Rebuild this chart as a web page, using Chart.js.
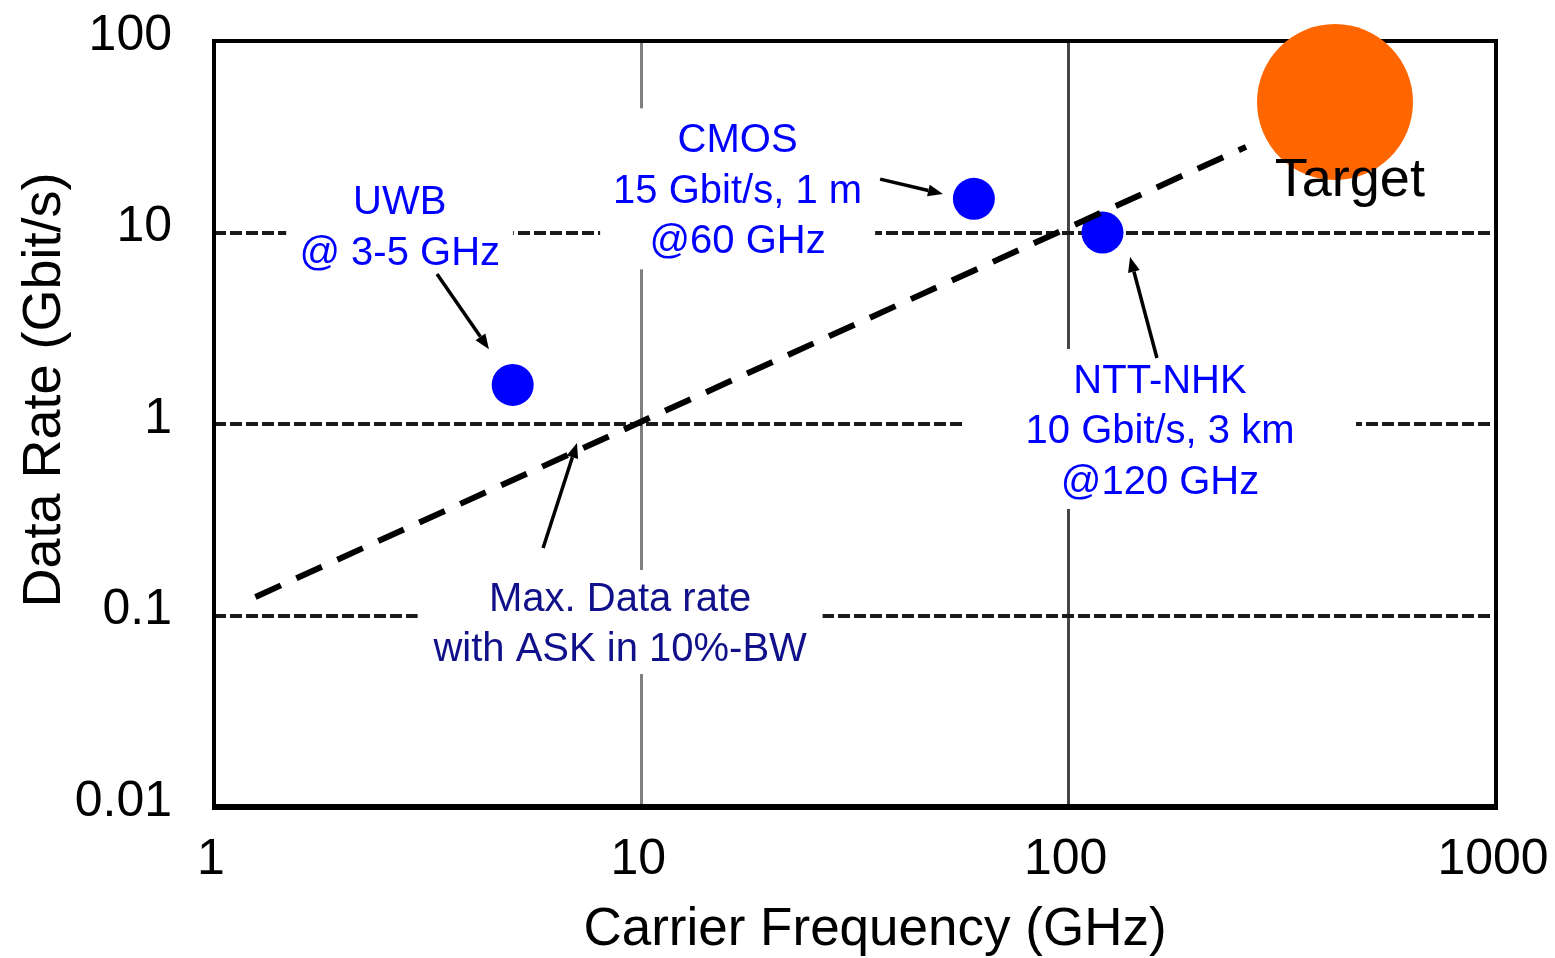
<!DOCTYPE html>
<html><head><meta charset="utf-8">
<script src="https://cdn.jsdelivr.net/npm/chart.js@4.4.0/dist/chart.umd.min.js"></script>
<style>html,body{margin:0;padding:0;background:#fff;}#wrap{width:1555px;height:958px;position:relative;}</style>
</head><body><div id="wrap"><canvas id="c"></canvas></div>
<script>
// ---- data ----
const xTickValues = [1, 10, 100, 1000];
const xTickLabels = ['1', '10', '100', '1000'];
const yTickValues = [0.01, 0.1, 1, 10, 100];
const yTickLabels = ['0.01', '0.1', '1', '10', '100'];

const measuredNames = ['UWB', 'CMOS', 'NTT-NHK'];
const measuredFreq = [5, 60, 120];      // GHz
const measuredRate = [1.6, 15, 10];     // Gbit/s
const targetFreq = [420];
const targetRate = [48];
const askLimitFreq = [1.25, 260];
const askLimitRate = [0.125, 28];

const xAxisTitle = 'Carrier Frequency (GHz)';
const yAxisTitle = 'Data Rate (Gbit/s)';

// ---- annotations (anchored in data units) ----
const FONT = '"Liberation Sans", Arial, sans-serif';
const notes = [
  {lines: ['UWB', '@ 3-5 GHz'], x: 2.72, y: 10.9, color: '#0000ff', size: 40, boxW: 227, boxH: 104},
  {lines: ['CMOS', '15 Gbit/s, 1 m', '@60 GHz'], x: 16.8, y: 16.9, color: '#0000ff', size: 40, boxW: 275, boxH: 161},
  {lines: ['NTT-NHK', '10 Gbit/s, 3 km', '@120 GHz'], x: 163.6, y: 0.942, color: '#0000ff', size: 40, boxW: 392, boxH: 160},
  {lines: ['Max. Data rate', 'with ASK in 10%-BW'], x: 8.92, y: 0.0925, color: '#10108a', size: 40, boxW: 405, boxH: 104},
  {lines: ['Target'], x: 455, y: 19.3, color: '#000000', size: 54}
];
const arrows = [
  {from: [3.325, 6.07], to: [4.40, 2.46]},
  {from: [36.2, 19.0], to: [50.8, 15.9]},
  {from: [160.9, 2.21], to: [139.2, 7.45]},
  {from: [5.89, 0.225], to: [7.07, 0.796]}
];

const overlay = {
  id: 'overlay',
  beforeDatasetsDraw(chart) {
    const {ctx, chartArea: a, scales: {x, y}} = chart;
    ctx.save();
    ctx.fillStyle = '#ffffff';
    notes.forEach(n => {
      if (!n.boxW) return;
      const cx = x.getPixelForValue(n.x), cy = y.getPixelForValue(n.y);
      ctx.fillRect(cx - n.boxW / 2, cy - n.boxH / 2, n.boxW, n.boxH);
    });
    ctx.strokeStyle = '#000';
    ctx.lineWidth = 4;
    ctx.beginPath();
    ctx.moveTo(a.left, a.bottom); ctx.lineTo(a.left, a.top);
    ctx.lineTo(a.right, a.top); ctx.lineTo(a.right, a.bottom);
    ctx.stroke();
    ctx.lineWidth = 6;
    ctx.beginPath();
    ctx.moveTo(a.left - 2, a.bottom); ctx.lineTo(a.right + 2, a.bottom);
    ctx.stroke();
    ctx.restore();
  },
  afterDatasetsDraw(chart) {
    const {ctx, chartArea: a, scales: {x, y}} = chart;
    ctx.save();
    ctx.textAlign = 'center';
    ctx.textBaseline = 'middle';
    notes.forEach(n => {
      const cx = x.getPixelForValue(n.x), cy = y.getPixelForValue(n.y) + 3;
      const lh = 50.5;
      ctx.font = n.size + 'px ' + FONT;
      ctx.fillStyle = n.color;
      const y0 = cy - (n.lines.length - 1) * lh / 2;
      n.lines.forEach((t, i) => ctx.fillText(t, cx, y0 + i * lh));
    });
    // arrows
    ctx.strokeStyle = '#000'; ctx.fillStyle = '#000'; ctx.lineWidth = 3.5;
    arrows.forEach(ar => {
      const x1 = x.getPixelForValue(ar.from[0]), y1 = y.getPixelForValue(ar.from[1]);
      const x2 = x.getPixelForValue(ar.to[0]), y2 = y.getPixelForValue(ar.to[1]);
      const ang = Math.atan2(y2 - y1, x2 - x1);
      const hl = 15, hw = 6;
      const bx = x2 - hl * Math.cos(ang), by = y2 - hl * Math.sin(ang);
      ctx.beginPath(); ctx.moveTo(x1, y1); ctx.lineTo(bx, by); ctx.stroke();
      ctx.beginPath();
      ctx.moveTo(x2, y2);
      ctx.lineTo(bx + hw * Math.sin(ang), by - hw * Math.cos(ang));
      ctx.lineTo(bx - hw * Math.sin(ang), by + hw * Math.cos(ang));
      ctx.closePath(); ctx.fill();
    });
    // axis titles
    ctx.fillStyle = '#000';
    ctx.font = '53px ' + FONT;
    ctx.fillText(xAxisTitle, 875, 930);
    ctx.save();
    ctx.translate(45, 390);
    ctx.rotate(-Math.PI / 2);
    ctx.font = '54px ' + FONT;
    ctx.fillText(yAxisTitle, 0, 0);
    ctx.restore();
    ctx.restore();
  }
};

const toPts = (xs, ys) => xs.map((v, i) => ({x: v, y: ys[i]}));

new Chart(document.getElementById('c'), {
  type: 'scatter',
  data: {
    datasets: [
      {type: 'line', label: 'Max. Data rate with ASK in 10%-BW', data: toPts(askLimitFreq, askLimitRate),
       borderColor: '#000', borderWidth: 6, borderDash: [28, 17], pointRadius: 0, fill: false, order: 0},
      {label: 'Measured', data: toPts(measuredFreq, measuredRate), backgroundColor: '#0000ff',
       borderWidth: 0, pointRadius: 21, order: 1},
      {label: 'Target', data: toPts(targetFreq, targetRate), backgroundColor: '#ff6600',
       borderWidth: 0, pointRadius: 78, clip: false, order: 2}
    ]
  },
  options: {
    responsive: true, maintainAspectRatio: false, animation: false, events: [],
    layout: {autoPadding: false, padding: {left: 0, right: 59, top: 41, bottom: 0}},
    plugins: {legend: {display: false}, tooltip: {enabled: false}},
    scales: {
      x: {
        type: 'logarithmic', min: 1, max: 1000,
        afterBuildTicks: s => { s.ticks = xTickValues.map(v => ({value: v})); },
        afterFit: s => { s.height = 151; s.paddingLeft = 0; s.paddingRight = 0; },
        ticks: {autoSkip: false, maxRotation: 0, padding: 23, labelOffset: -3, color: '#000',
                font: {family: FONT, size: 50},
                callback: (v, i) => xTickLabels[i]},
        grid: {drawTicks: false, lineWidth: 3,
               color: c => c.tick && c.tick.value === 10 ? '#808080' : (c.tick && c.tick.value === 100 ? '#454545' : 'rgba(0,0,0,0)')},
        border: {display: false}
      },
      y: {
        type: 'logarithmic', min: 0.01, max: 100,
        afterBuildTicks: s => { s.ticks = yTickValues.map(v => ({value: v})); },
        afterFit: s => { s.width = 214; s.paddingTop = 0; s.paddingBottom = 0; },
        ticks: {autoSkip: false, padding: 42, labelOffset: -5, color: '#000',
                font: {family: FONT, size: 50},
                callback: (v, i) => yTickLabels[i]},
        grid: {drawTicks: false, lineWidth: 4,
               color: c => c.tick && [0.1, 1, 10].includes(c.tick.value) ? '#1a1a1a' : 'rgba(0,0,0,0)'},
        border: {display: false, dash: [12, 4]}
      }
    }
  },
  plugins: [overlay]
});
</script></body></html>
